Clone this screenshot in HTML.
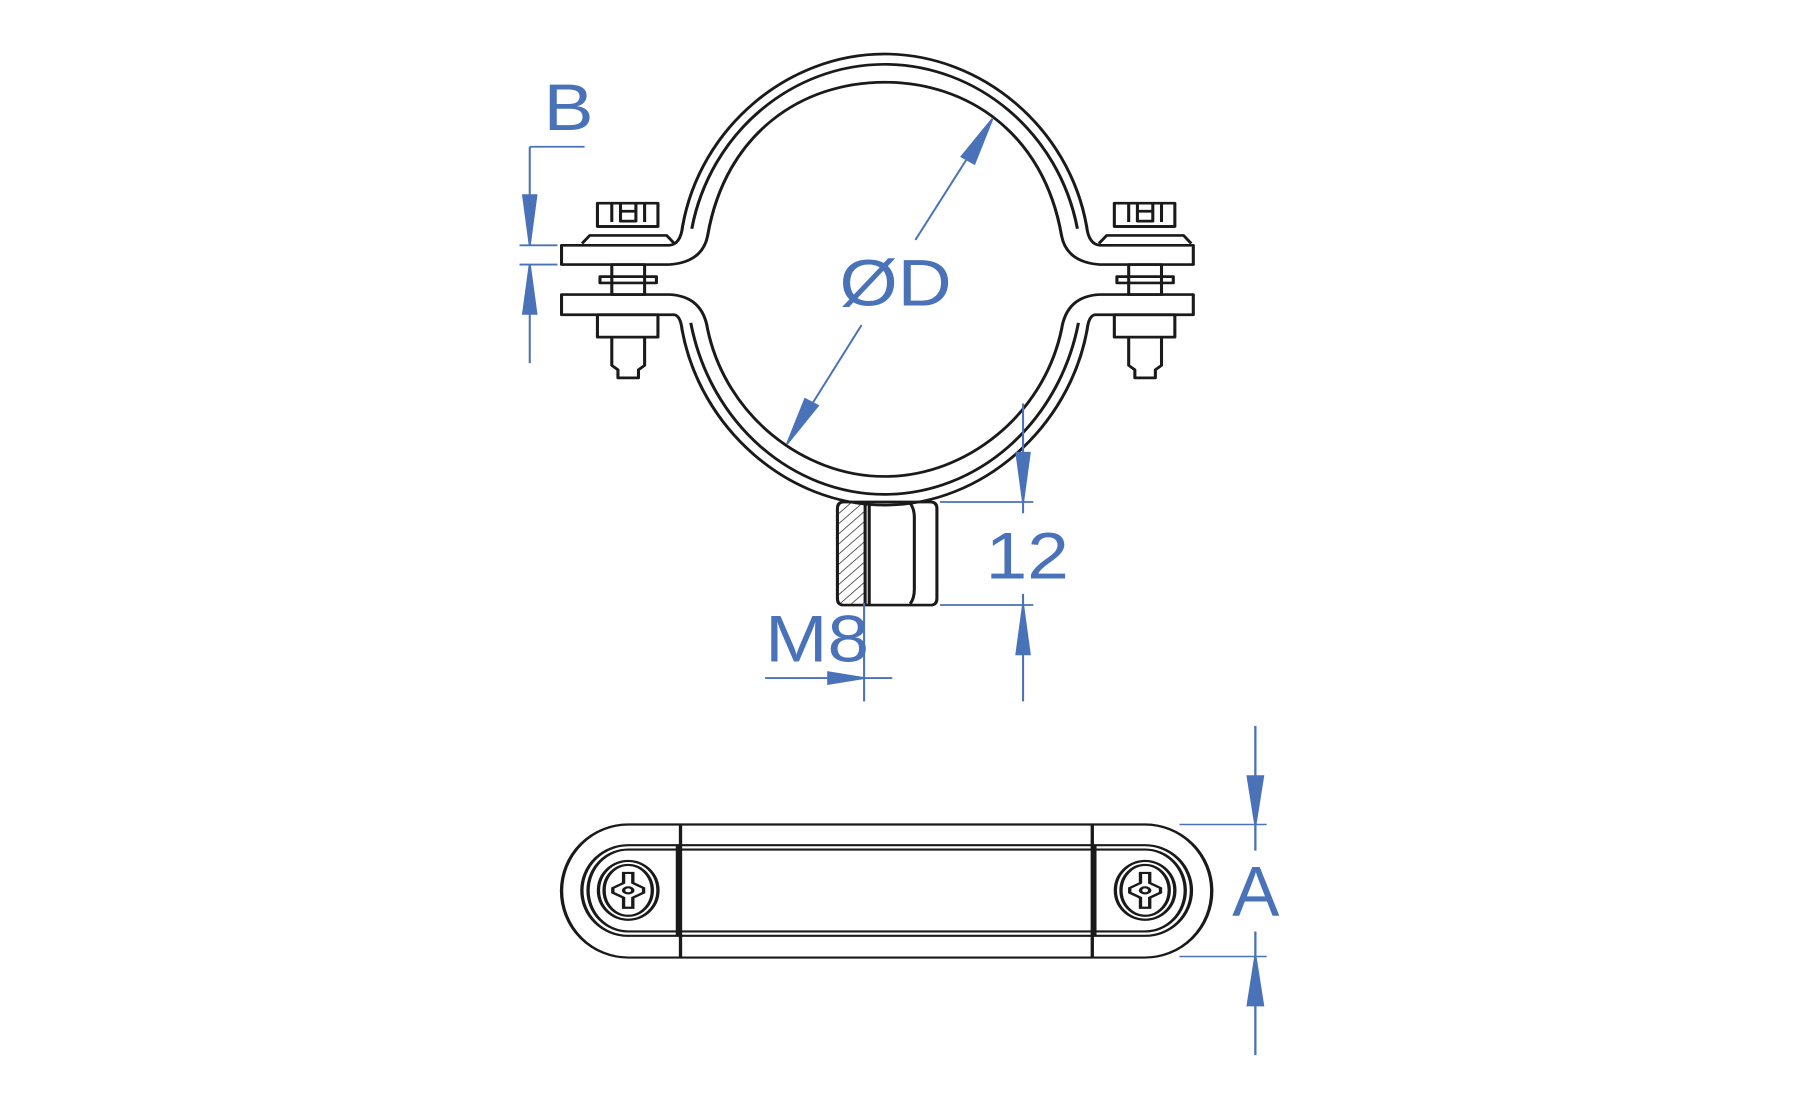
<!DOCTYPE html>
<html><head><meta charset="utf-8"><style>html,body{margin:0;padding:0;background:#fff}svg{display:block}</style></head>
<body>
<svg width="1795" height="1110" viewBox="0 0 1795 1110" xmlns="http://www.w3.org/2000/svg">
<defs>
<pattern id="h" width="16" height="16" patternUnits="userSpaceOnUse" patternTransform="rotate(45)"><line x1="0" y1="0" x2="0" y2="16" stroke="#222" stroke-width="3"/></pattern>
</defs>
<g transform="translate(500,-2) scale(0.5128,0.448)">
<g fill="none" stroke="#1a1a1a" stroke-width="6" stroke-linejoin="round">
<path d="M120,552 L330,552 Q352,550 356,510 C390,290 560,125 750,125 C940,125 1110,290 1144,510 Q1148,550 1170,552 L1352,552 L1352,595 L1170,595 Q1105,590 1095,530 C1060,300 910,188 750,188 C590,188 440,300 405,530 Q395,590 330,595 L120,595 Z"/>
<path d="M374,515 C410,300 570,148 750,148 C930,148 1090,300 1126,515"/>
<path d="M120,662 L330,662 Q395,665 405,740 C440,930 590,1068 750,1068 C910,1068 1060,930 1095,740 Q1105,665 1170,662 L1352,662 L1352,707 L1160,707 Q1148,710 1145,740 C1110,960 940,1132 750,1132 C560,1132 390,960 355,740 Q352,710 340,707 L120,707 Z"/>
<path d="M372,725 C410,950 570,1108 750,1108 C930,1108 1090,950 1128,725"/>
<g id="bolt">
<rect x="190" y="458" width="118" height="52"/>
<path d="M218,458 V500 M282,458 V500 M235,458 v18 h30 v-18 M235,476 v22 h30 v-22"/>
<path d="M190,510 H308 M160,548 L175,530 H325 L340,548"/>
<rect x="218" y="595" width="64" height="67"/>
<rect x="195" y="622" width="110" height="14"/>
<rect x="190" y="707" width="118" height="50"/>
<path d="M218,757 V820 L230,830 V848 H270 V830 L282,820 V757"/>
</g>
<use href="#bolt" transform="translate(1008,0)"/>
<rect x="658" y="1128" width="54" height="227" fill="url(#h)" stroke="none"/>
<path d="M670,1125 H840 Q852,1125 852,1140 V1340 Q852,1355 840,1355 H670 Q658,1355 658,1340 V1140 Q658,1125 670,1125 Z"/>
<path d="M712,1125 V1355 M720,1125 V1355 M800,1128 Q808,1140 808,1160 V1320 Q808,1340 800,1352"/>
</g>
<g stroke="#4a72b8" stroke-width="4" fill="#4a72b8">
<path d="M58,332 H165 M58,332 V552 M38,552 H112 M38,595 H112 M58,595 V815" fill="none"/>
<path d="M45,440 L71,440 L58,552 Z M45,705 L71,705 L58,595 Z"/>
<path d="M810,540 L960,270 M705,730 L560,995" fill="none"/>
<path d="M960,270 L925,370 L900,354 Z M560,995 L595,895 L620,910 Z"/>
<path d="M1020,905 V1150 M858,1125 H1040 M858,1355 H1040 M1020,1330 V1570 M710,1350 V1570 M517,1518 H765" fill="none"/>
<path d="M1007,1015 L1033,1015 L1020,1125 Z M1007,1465 L1033,1465 L1020,1355 Z M640,1505 L640,1531 L710,1518 Z"/>
</g>
<g fill="#4a72b8" font-family="Liberation Sans, sans-serif" font-size="146">
<text x="85" y="295">B</text>
<text x="662" y="686">ØD</text>
<text x="947" y="1296">12</text>
<text x="517" y="1481">M8</text>
</g>
</g>
<g transform="translate(500,700.8) scale(0.5128,0.3343)">
<g fill="none" stroke="#1a1a1a" stroke-width="6.5">
<path d="M250,370 L1258,370 A130,199 0 0 1 1258,768 L250,768 A130,199 0 0 1 250,370 Z"/>
<path d="M250,432 L1258,432 A90,135 0 0 1 1258,703 L250,703 A90,135 0 0 1 250,432 Z"/>
<path d="M250,445 L1258,445 A78,122 0 0 1 1258,690 L250,690 A78,122 0 0 1 250,445 Z"/>
<path d="M352,370 V768 M1155,370 V768 M346,432 V703 M1160,432 V703"/>
<g id="sc">
<ellipse cx="250" cy="567" rx="58" ry="88"/>
<ellipse cx="250" cy="567" rx="47" ry="76"/>
<path d="M241,515 H259 V545 L280,560 V574 L259,589 V619 H241 V589 L220,574 V560 L241,545 Z"/>
<circle cx="250" cy="567" r="9"/>
</g>
<use href="#sc" transform="translate(1008,0)"/>
</g>
<g stroke="#4a72b8" stroke-width="4.5" fill="#4a72b8">
<path d="M1473,75 V448 M1325,370 H1495 M1325,765 H1495 M1473,690 V1060" fill="none"/>
<path d="M1458,225 L1488,225 L1473,370 Z M1458,912 L1488,912 L1473,765 Z"/>
</g>
<text x="1428" y="643" fill="#4a72b8" font-family="Liberation Sans, sans-serif" font-size="210" textLength="92" lengthAdjust="spacingAndGlyphs">A</text>
</g>
</svg>
</body></html>
